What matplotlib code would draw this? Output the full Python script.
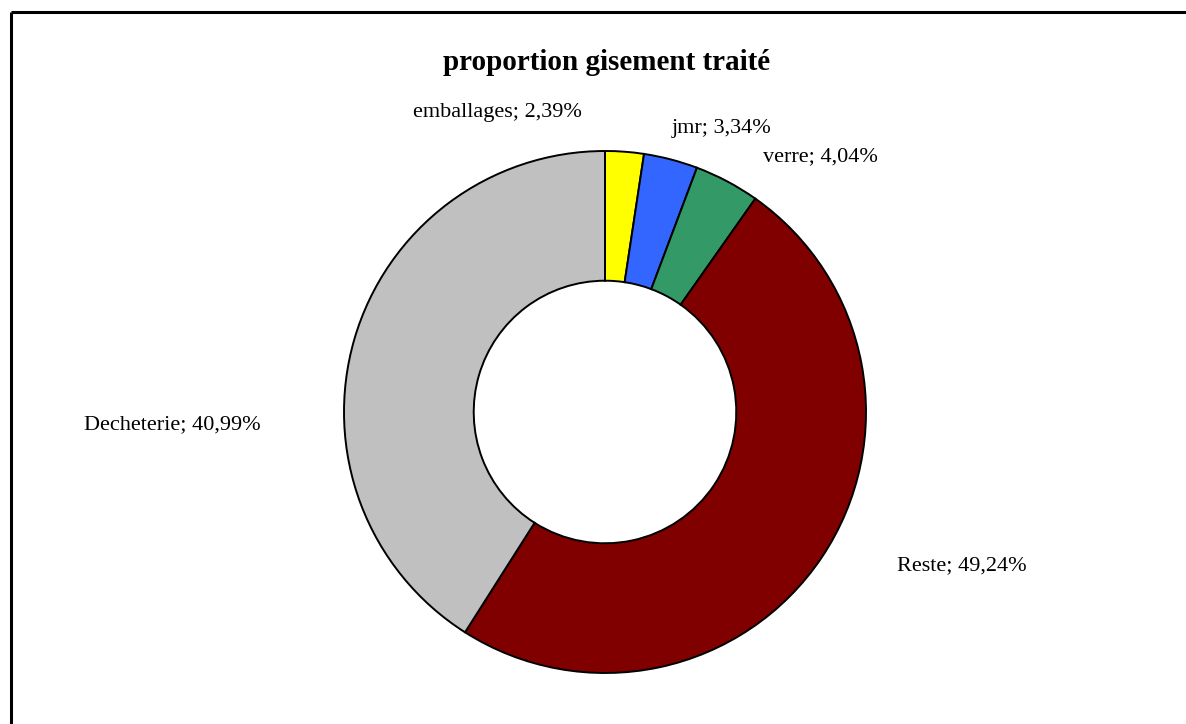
import matplotlib
matplotlib.use("Agg")
import matplotlib.pyplot as plt

W, H = 1186, 724

categories = ["emballages", "jmr", "verre", "Reste", "Decheterie"]
values = [2.39, 3.34, 4.04, 49.24, 40.99]
colors = ["#FFFF00", "#3366FF", "#339966", "#800000", "#C0C0C0"]
labels = ["emballages; 2,39%", "jmr; 3,34%", "verre; 4,04%",
          "Reste; 49,24%", "Decheterie; 40,99%"]
# label centres, in pixels from top-left
label_pos = [(497, 113), (722, 128), (820, 157), (962, 566), (172, 425)]

plt.rcParams["font.family"] = ["Liberation Serif", "DejaVu Serif"]

fig = plt.figure(figsize=(W / 100, H / 100), dpi=100)
ax = fig.add_axes([0, 0, 1, 1])

cx, cy, r = 605, H - 412, 261
ax.pie(values, colors=colors, startangle=90, counterclock=False,
       center=(cx, cy), radius=r, frame=True,
       wedgeprops=dict(width=r * 0.497, edgecolor="black", linewidth=1.4))
ax.set_xlim(0, W)
ax.set_ylim(0, H)
ax.set_aspect("equal")
ax.axis("off")

for txt, (x, y) in zip(labels, label_pos):
    ax.text(x, H - y, txt, ha="center", va="center", fontsize=16)

ax.text(607, H - 62, "proportion gisement traité", ha="center", va="center",
        fontsize=21, fontweight="bold")

# frame: only top and left edges are visible in the crop
ax.plot([11, W], [H - 12, H - 12], color="black", lw=2.2, solid_capstyle="butt")
ax.plot([11, 11], [H - 12, 0], color="black", lw=2.2, solid_capstyle="butt")

fig.savefig("out.png", dpi=100)
